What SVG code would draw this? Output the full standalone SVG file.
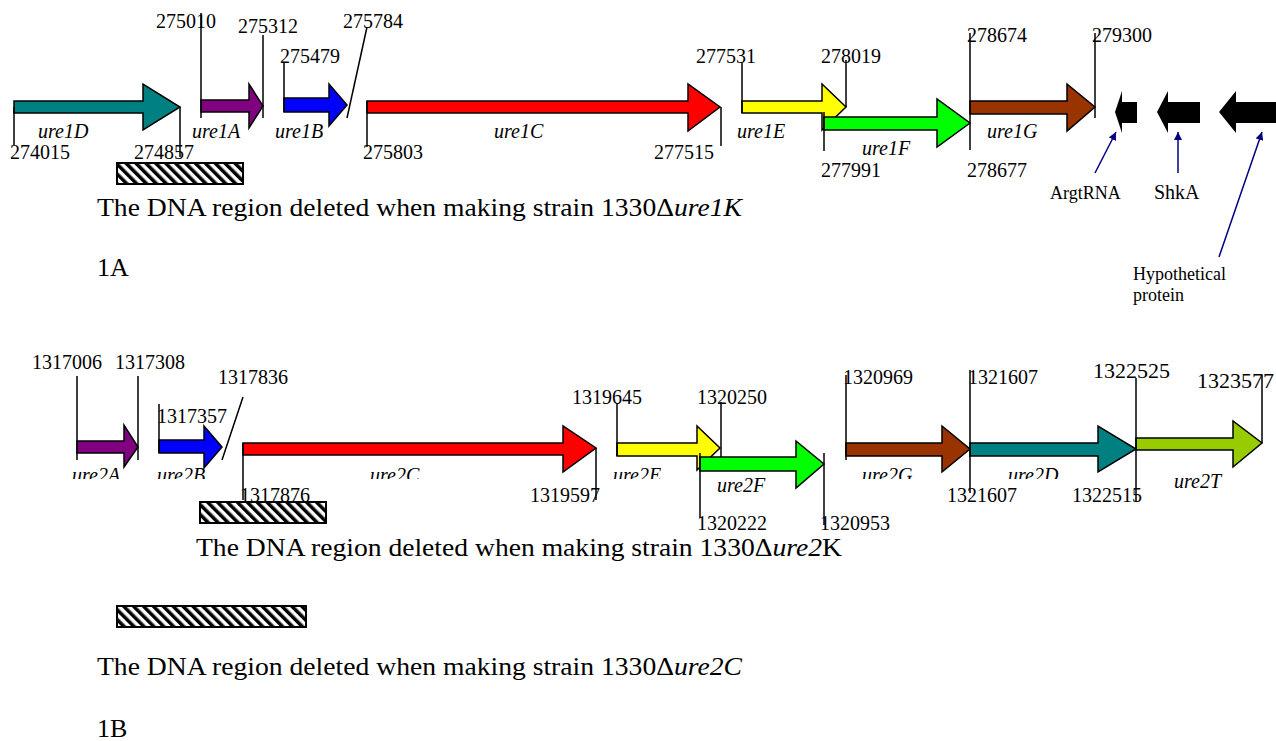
<svg xmlns="http://www.w3.org/2000/svg" width="1276" height="741" viewBox="0 0 1276 741">
<style>
.num{font-family:"Liberation Serif","Times New Roman","DejaVu Serif",serif;font-size:20px;fill:#000}
.big{font-size:22px}
.lab{font-family:"Liberation Serif","Times New Roman","DejaVu Serif",serif;font-size:20px;font-style:italic;fill:#000}
.cap{font-family:"Liberation Serif","Times New Roman","DejaVu Serif",serif;font-size:26px;fill:#000}
.small{font-family:"Liberation Serif","Times New Roman","DejaVu Serif",serif;font-size:18px;fill:#000}
.tick{stroke:#000;stroke-width:1.5;fill:none}
.gene{stroke:#000;stroke-width:1.5;stroke-linejoin:miter}
.hatch{fill:url(#hatch);stroke:#000;stroke-width:2}
.pointer{stroke:#000080;stroke-width:1.5;fill:none;marker-end:url(#navyhead)}
.it{font-family:"Liberation Serif","Times New Roman","DejaVu Serif",serif;font-style:italic}
</style>
<defs>
<pattern id="hatch" patternUnits="userSpaceOnUse" width="7" height="7" patternTransform="rotate(-45)">
<rect x="0" y="0" width="7" height="7" fill="#fff"/>
<rect x="0" y="0" width="3.5" height="7" fill="#000"/>
</pattern>
<marker id="navyhead" viewBox="0 0 10 10" refX="10" refY="5" markerWidth="8" markerHeight="8" markerUnits="userSpaceOnUse" orient="auto">
<path d="M0,0 L10,5 L0,10 z" fill="#000080"/>
</marker>
<clipPath id="clipLab"><rect x="0" y="0" width="1276" height="479"/></clipPath>
</defs>
<rect x="0" y="0" width="1276" height="741" fill="#fff"/>

<!-- 1A row -->
<g id="ure1D">
<polygon class="gene" fill="#008080" points="14,101 143,101 143,84 180,107 143,130 143,113 14,113"/>
<line class="tick" x1="14" y1="107" x2="14" y2="145"/>
<line class="tick" x1="180" y1="107" x2="180" y2="157"/>
<text class="lab" x="38" y="138">ure1D</text>
<text class="num" x="10" y="159">274015</text>
<text class="num" x="134" y="159">274857</text>
</g>
<g id="ure1A">
<polygon class="gene" fill="#800080" points="201,100 249,100 249,84 263,106 249,128 249,112 201,112"/>
<line class="tick" x1="201" y1="13" x2="201" y2="118"/>
<line class="tick" x1="263" y1="35" x2="263" y2="118"/>
<text class="lab" x="192" y="138">ure1A</text>
<text class="num" x="156" y="28">275010</text>
<text class="num" x="238" y="33">275312</text>
</g>
<g id="ure1B">
<polygon class="gene" fill="#0000ff" points="284,98 329,98 329,84 347,105 329,126 329,112 284,112"/>
<line class="tick" x1="284" y1="62" x2="284" y2="112"/>
<line class="tick" x1="367" y1="27" x2="347" y2="118"/>
<text class="lab" x="275" y="138">ure1B</text>
<text class="num" x="280" y="63">275479</text>
<text class="num" x="343" y="28">275784</text>
</g>
<g id="ure1C">
<polygon class="gene" fill="#ff0000" points="367,101 688,101 688,84 720,107 688,131 688,113 367,113"/>
<line class="tick" x1="367" y1="101" x2="367" y2="147"/>
<line class="tick" x1="721" y1="107" x2="721" y2="146"/>
<text class="lab" x="494" y="138">ure1C</text>
<text class="num" x="363" y="159">275803</text>
<text class="num" x="654" y="159">277515</text>
</g>
<g id="ure1E">
<polygon class="gene" fill="#ffff00" points="742,101 822,101 822,84 846,107 822,130 822,113 742,113"/>
<line class="tick" x1="742" y1="63" x2="742" y2="113"/>
<line class="tick" x1="846" y1="60" x2="846" y2="107"/>
<text class="lab" x="737" y="138">ure1E</text>
<text class="num" x="696" y="63">277531</text>
<text class="num" x="821" y="63">278019</text>
</g>
<g id="ure1F">
<polygon class="gene" fill="#00ff00" points="824,117 937,117 937,99 970,123 937,147 937,130 824,130"/>
<line class="tick" x1="824" y1="112" x2="824" y2="151"/>
<text class="lab" x="862" y="155">ure1F</text>
<text class="num" x="821" y="177">277991</text>
</g>
<g id="ure1G">
<polygon class="gene" fill="#993300" points="970,101 1067,101 1067,84 1095,107 1067,131 1067,114 970,114"/>
<line class="tick" x1="970" y1="33" x2="970" y2="150"/>
<line class="tick" x1="1095" y1="33" x2="1095" y2="118"/>
<text class="lab" x="987" y="138">ure1G</text>
<text class="num" x="967" y="42">278674</text>
<text class="num" x="1092" y="42">279300</text>
<text class="num" x="967" y="177">278677</text>
</g>
<g id="argtRNA">
<polygon fill="#000" points="1137,102 1122,102 1122,91 1115,112 1122,133 1122,123 1137,123"/>
<text class="small" x="1050" y="199">ArgtRNA</text>
</g>
<g id="shkA">
<polygon fill="#000" points="1200,102 1168,102 1168,91 1157,112 1168,133 1168,123 1200,123"/>
<text class="num" x="1154" y="199">ShkA</text>
</g>
<g id="hypothetical">
<polygon fill="#000" points="1280,102 1236,102 1236,91 1219,112 1236,133 1236,123 1280,123"/>
<text class="small" x="1133" y="280">Hypothetical</text>
<text class="small" x="1133" y="301">protein</text>
</g>
<g id="deletion1">
<rect class="hatch" x="117" y="163" width="126" height="21"/>
<text class="cap" x="97" y="216" textLength="645" lengthAdjust="spacingAndGlyphs">The DNA region deleted when making strain 1330Δ<tspan class="it">ure1K</tspan></text>
</g>
<text class="cap" x="97" y="276">1A</text>

<!-- 1B row -->
<g id="ure2A">
<polygon class="gene" fill="#800080" points="77,441 124,441 124,425 138,447 124,467 124,453 77,453"/>
<line class="tick" x1="77" y1="376" x2="77" y2="460"/>
<line class="tick" x1="138" y1="376" x2="138" y2="460"/>
<text class="lab" x="72" y="482" clip-path="url(#clipLab)">ure2A</text>
<text class="num" x="32" y="369">1317006</text>
<text class="num" x="115" y="369">1317308</text>
</g>
<g id="ure2B">
<polygon class="gene" fill="#0000ff" points="159,440 204,440 204,426 222,447 204,468 204,453 159,453"/>
<line class="tick" x1="159" y1="404" x2="159" y2="453"/>
<line class="tick" x1="243" y1="397" x2="222" y2="460"/>
<text class="lab" x="157" y="482" clip-path="url(#clipLab)">ure2B</text>
<text class="num" x="157" y="423">1317357</text>
<text class="num" x="218" y="384">1317836</text>
</g>
<g id="ure2C">
<polygon class="gene" fill="#ff0000" points="243,443 563,443 563,426 596,448 563,472 563,455 243,455"/>
<line class="tick" x1="243" y1="443" x2="243" y2="500"/>
<line class="tick" x1="596" y1="448" x2="596" y2="500"/>
<text class="lab" x="370" y="482" clip-path="url(#clipLab)">ure2C</text>
<text class="num" x="240" y="502">1317876</text>
<text class="num" x="530" y="502">1319597</text>
</g>
<g id="ure2E">
<polygon class="gene" fill="#ffff00" points="617,443 697,443 697,426 720,448 697,470 697,456 617,456"/>
<line class="tick" x1="617" y1="403" x2="617" y2="456"/>
<line class="tick" x1="721" y1="402" x2="721" y2="460"/>
<text class="lab" x="613" y="482" clip-path="url(#clipLab)">ure2E</text>
<text class="num" x="572" y="404">1319645</text>
<text class="num" x="697" y="404">1320250</text>
</g>
<g id="ure2F">
<polygon class="gene" fill="#00ff00" points="700,457 796,457 796,441 824,464 796,488 796,471 700,471"/>
<line class="tick" x1="700" y1="453" x2="700" y2="518"/>
<line class="tick" x1="824" y1="453" x2="824" y2="525"/>
<text class="lab" x="717" y="492">ure2F</text>
<text class="num" x="697" y="530">1320222</text>
<text class="num" x="820" y="530">1320953</text>
</g>
<g id="ure2G">
<polygon class="gene" fill="#993300" points="846,443 942,443 942,426 970,449 942,472 942,456 846,456"/>
<line class="tick" x1="846" y1="375" x2="846" y2="460"/>
<text class="lab" x="862" y="482" clip-path="url(#clipLab)">ure2G</text>
<text class="num" x="843" y="384">1320969</text>
</g>
<g id="ure2D">
<polygon class="gene" fill="#008080" points="970,443 1098,443 1098,426 1136,449 1098,472 1098,456 970,456"/>
<line class="tick" x1="970" y1="370" x2="970" y2="493"/>
<text class="lab" x="1008" y="482" clip-path="url(#clipLab)">ure2D</text>
<text class="num" x="968" y="384">1321607</text>
<text class="num" x="947" y="502">1321607</text>
</g>
<g id="ure2T">
<polygon class="gene" fill="#99cc00" points="1136,438 1233,438 1233,421 1262,443 1233,467 1233,450 1136,450"/>
<line class="tick" x1="1136" y1="378" x2="1136" y2="502"/>
<line class="tick" x1="1262" y1="375" x2="1262" y2="443"/>
<text class="lab" x="1174" y="488">ure2T</text>
<text class="num" x="1072" y="502">1322515</text>
<text class="num big" x="1093" y="378">1322525</text>
<text class="num big" x="1197" y="388">1323577</text>
</g>
<g id="deletion2">
<rect class="hatch" x="200" y="502" width="126" height="21"/>
<text class="cap" x="196" y="556" textLength="646" lengthAdjust="spacingAndGlyphs">The DNA region deleted when making strain 1330Δ<tspan class="it">ure2</tspan>K</text>
</g>
<g id="deletion3">
<rect class="hatch" x="117" y="606" width="189" height="21"/>
<text class="cap" x="97" y="675" textLength="645" lengthAdjust="spacingAndGlyphs">The DNA region deleted when making strain 1330Δ<tspan class="it">ure2C</tspan></text>
</g>
<text class="cap" x="97" y="737">1B</text>

<g id="connectors">
<line class="pointer" x1="1095" y1="173" x2="1116" y2="132"/>
<line class="pointer" x1="1178" y1="173" x2="1178" y2="132"/>
<line class="pointer" x1="1219" y1="257" x2="1262" y2="132"/>
</g>
</svg>
